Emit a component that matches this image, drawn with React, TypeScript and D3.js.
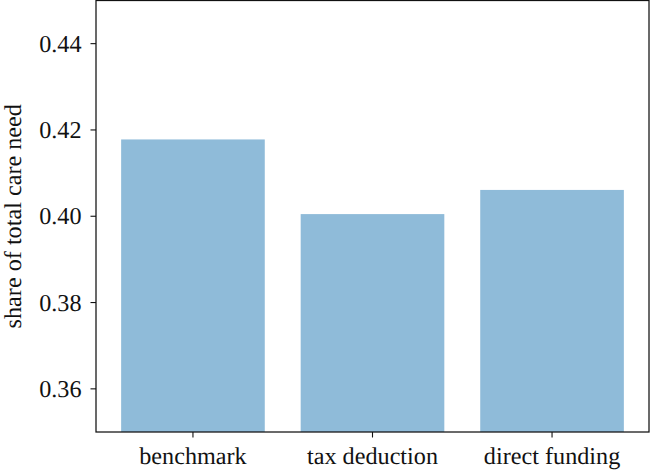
import React from "react";
import * as d3 from "d3";

const categories = ["benchmark", "tax deduction", "direct funding"];
const values = [0.4178, 0.4005, 0.4061];
const yTicks = [0.36, 0.38, 0.4, 0.42, 0.44];
const yDomain = [0.35, 0.45];
const yLabel = "share of total care need";

const W = 650;
const H = 470;
const left = 96;
const right = 649;
const top = 0.5;
const bottom = 432;
const textStyle = {
  fontFamily: '"Liberation Serif", "Times New Roman", serif',
  fontSize: "24.2px",
  textRendering: "geometricPrecision" as const,
};

export default function App() {
  const x = d3
    .scaleBand<string>()
    .domain(categories)
    .range([left, right])
    .paddingInner(0.2)
    .paddingOuter(0.14);
  const y = d3.scaleLinear().domain(yDomain).range([bottom, top]);
  const fmt = d3.format(".2f");

  return (
    <svg
      width={W}
      height={H}
      style={{ position: "absolute", left: 0, top: 0, background: "#fff" }}
    >
      {categories.map((c, i) => (
        <rect
          key={c}
          x={x(c)}
          y={y(values[i])}
          width={x.bandwidth()}
          height={bottom - y(values[i])}
          fill="#8fbbd9"
        />
      ))}
      <rect
        x={left}
        y={top}
        width={right - left}
        height={bottom - top}
        fill="none"
        stroke="#111"
        strokeWidth={1.25}
      />
      {yTicks.map((t) => (
        <g key={t} transform={`translate(${left},${y(t)})`}>
          <line x1={-5.5} x2={0} stroke="#111" strokeWidth={1.1} />
          <text x={-14.5} dy="0.33em" textAnchor="end" fill="#111" style={textStyle}>
            {fmt(t)}
          </text>
        </g>
      ))}
      {categories.map((c) => (
        <g key={c} transform={`translate(${(x(c) as number) + x.bandwidth() / 2},${bottom})`}>
          <line y1={0} y2={5.5} stroke="#111" strokeWidth={1.1} />
          <text y={32} textAnchor="middle" fill="#111" style={textStyle}>
            {c}
          </text>
        </g>
      ))}
      <text
        transform={`translate(21,${(top + bottom) / 2}) rotate(-90)`}
        textAnchor="middle"
        fill="#111"
        style={textStyle}
      >
        {yLabel}
      </text>
    </svg>
  );
}
